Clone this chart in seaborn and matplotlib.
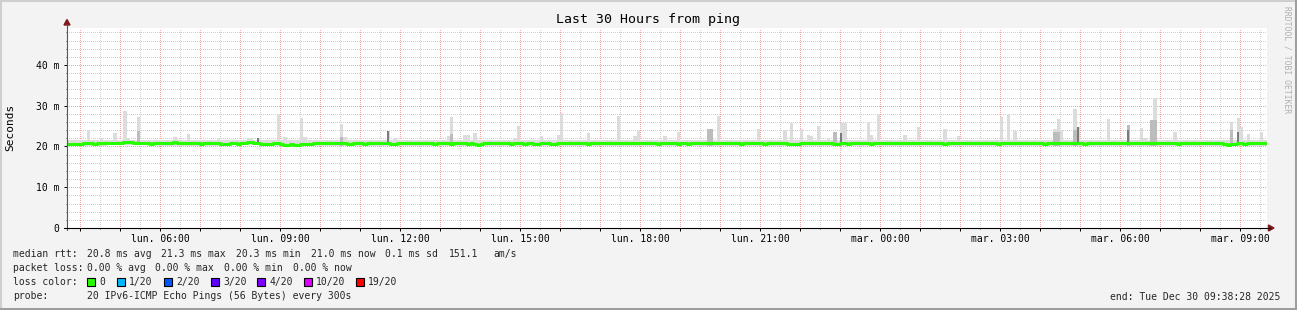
import matplotlib
matplotlib.use("Agg")
import numpy as np
import pandas as pd
import seaborn as sns
import matplotlib.pyplot as plt
from matplotlib.ticker import MultipleLocator, FuncFormatter
from matplotlib.patches import Rectangle, Polygon
from matplotlib.lines import Line2D

# ---------------- data ----------------
# time in hours since Mon 2025-12-29 00:00, 5-minute steps
data_start_h = 3 + 40 / 60
step_h = 5 / 60
view_start_h = 3 + 40.5 / 60
view_span_h = 30

# median rtt (ms), one row per hour (12 x 5 min)
median_ms = [
    20.7, 20.7, 20.6, 20.6, 20.7, 20.8, 20.8, 20.8, 20.7, 20.8, 20.8, 20.8,
    20.8, 20.8, 20.8, 20.9, 20.9, 21.0, 21.0, 21.0, 20.9, 20.9, 20.8, 20.8,
    20.8, 20.7, 20.8, 20.9, 20.9, 20.8, 20.8, 20.9, 21.0, 20.9, 20.8, 20.8,
    20.8, 20.9, 20.8, 20.8, 20.7, 20.8, 20.8, 20.9, 20.8, 20.8, 20.7, 20.7,
    20.7, 20.8, 20.8, 20.7, 20.8, 20.9, 21.0, 21.0, 20.9, 20.8, 20.7, 20.7,
    20.7, 20.7, 20.8, 20.8, 20.6, 20.4, 20.4, 20.5, 20.3, 20.4, 20.5, 20.6,
    20.7, 20.7, 20.8, 20.8, 20.8, 20.9, 20.8, 20.8, 20.8, 20.9, 20.8, 20.8,
    20.7, 20.7, 20.8, 20.8, 20.8, 20.7, 20.8, 20.8, 20.8, 20.9, 20.8, 20.8,
    20.8, 20.6, 20.7, 20.8, 20.8, 20.8, 20.9, 20.8, 20.8, 20.8, 20.8, 20.9,
    20.8, 20.8, 20.7, 20.8, 20.8, 20.9, 20.8, 20.7, 20.8, 20.8, 20.8, 20.9,
    20.7, 20.8, 20.7, 20.3, 20.5, 20.8, 20.8, 20.8, 20.9, 20.8, 20.8, 20.8,
    20.9, 20.7, 20.8, 20.8, 20.8, 20.7, 20.8, 20.8, 20.7, 20.7, 20.8, 20.8,
    20.8, 20.7, 20.7, 20.8, 20.8, 20.8, 20.8, 20.8, 20.9, 20.8, 20.9, 20.9,
    20.7, 20.8, 20.8, 20.8, 20.8, 20.8, 20.8, 20.8, 20.8, 20.8, 20.8, 20.8,
    20.8, 20.8, 20.8, 20.8, 20.8, 20.8, 20.8, 20.8, 20.8, 20.7, 20.8, 20.9,
    20.8, 20.8, 20.8, 20.7, 20.8, 20.8, 20.7, 20.8, 20.9, 20.8, 20.8, 20.8,
    20.8, 20.8, 20.9, 20.9, 20.9, 20.8, 20.8, 20.9, 20.8, 20.8, 20.7, 20.8,
    20.8, 20.8, 20.8, 20.9, 20.8, 20.7, 20.8, 20.8, 20.8, 20.8, 20.8, 20.8,
    20.7, 20.6, 20.5, 20.7, 20.8, 20.8, 20.8, 20.8, 20.8, 20.8, 20.8, 20.8,
    20.8, 20.8, 20.6, 20.7, 20.8, 20.8, 20.7, 20.8, 20.8, 20.8, 20.8, 20.8,
    20.8, 20.7, 20.8, 20.9, 20.9, 20.8, 20.8, 20.8, 20.8, 20.8, 20.8, 20.8,
    20.8, 20.9, 20.9, 20.8, 20.8, 20.8, 20.8, 20.8, 20.8, 20.8, 20.8, 20.7,
    20.8, 20.8, 20.8, 20.8, 20.8, 20.8, 20.8, 20.8, 20.8, 20.8, 20.8, 20.8,
    20.8, 20.8, 20.8, 20.7, 20.8, 20.8, 20.8, 20.8, 20.8, 20.8, 20.8, 20.8,
    20.8, 20.8, 20.8, 20.8, 20.8, 20.7, 20.8, 20.8, 20.8, 20.8, 20.9, 20.8,
    20.8, 20.8, 20.8, 20.8, 20.8, 20.7, 20.8, 20.8, 20.8, 20.8, 20.8, 20.8,
    20.8, 20.8, 20.8, 20.9, 20.8, 20.8, 20.8, 20.9, 20.8, 20.8, 20.8, 20.8,
    20.8, 20.9, 20.8, 20.8, 20.8, 20.8, 20.8, 20.8, 20.8, 20.7, 20.8, 20.8,
    20.8, 20.8, 20.8, 20.8, 20.8, 20.8, 20.8, 20.8, 20.8, 20.8, 20.8, 20.7,
    20.4, 20.5, 20.6, 20.8, 20.8, 20.7, 20.8, 20.8, 20.8, 20.9, 20.8, 20.9,
]

# normal smoke envelope per hour (ms)
smoke_lo_hourly = [20.2, 20.3, 20.2, 20.2, 20.3, 20.0, 20.2, 20.2, 20.2, 20.1,
                   20.1, 20.2, 20.2, 20.2, 20.2, 20.2, 20.2, 20.2, 20.1, 20.1,
                   20.2, 20.2, 20.2, 20.2, 20.2, 20.2, 20.2, 20.2, 20.2, 20.0]
smoke_hi_hourly = [21.5, 21.6, 21.6, 21.5, 21.6, 21.5, 21.5, 21.5, 21.6, 21.6,
                   21.5, 21.6, 21.5, 21.5, 21.5, 21.5, 21.6, 21.5, 21.6, 21.6,
                   21.5, 21.5, 21.5, 21.5, 21.6, 21.6, 21.5, 21.6, 21.5, 21.6]

# smoke spikes: step index -> highest ping (ms)
spike_steps = [6, 10, 14, 17, 18, 21, 32, 36, 45, 54, 55, 57, 63, 65, 70, 71,
               82, 83, 96, 98, 114, 115, 119, 120, 122, 134, 135, 142, 147, 148,
               156, 165, 170, 171, 179, 183, 192, 193, 195, 207, 215, 217, 220,
               222, 223, 225, 228, 230, 232, 233, 240, 241, 243, 251, 255, 263,
               267, 280, 282, 284, 296, 297, 298, 302, 303, 312, 318, 322, 323,
               325, 326, 332, 349, 351, 352, 354, 358]
spike_tops = [24.0, 22.0, 23.4, 28.8, 22.0, 27.3, 22.4, 23.1, 21.8, 22.0, 22.1,
              22.1, 28.0, 22.4, 26.9, 22.4, 25.5, 22.4, 23.9, 22.1, 22.5, 27.3,
              22.8, 22.8, 23.4, 22.2, 25.1, 22.5, 22.8, 28.1, 23.4, 27.6, 22.5,
              23.9, 22.6, 23.6, 24.3, 24.3, 27.6, 24.3, 24.0, 25.8, 24.3, 22.8,
              22.6, 25.0, 22.1, 23.5, 25.8, 25.8, 25.9, 22.8, 28.0, 22.8, 24.9,
              24.3, 22.6, 27.3, 28.0, 23.9, 24.3, 26.7, 24.1, 29.2, 24.7, 26.7,
              25.3, 24.5, 22.0, 26.5, 32.0, 23.6, 25.9, 27.1, 24.7, 23.1, 23.6]

# second smoke layer (several pings high)
mid_steps = [21, 82, 115, 192, 193, 230, 296, 297, 302, 318, 325, 326, 349]
mid_tops = [23.8, 22.4, 23.0, 24.3, 24.3, 23.5, 23.5, 23.5, 24.0, 25.3, 26.5, 26.5, 24.0]
# dense core (most pings high)
dark_steps = [57, 96, 232, 303, 318, 351]
dark_tops = [22.1, 23.9, 23.4, 24.7, 24.0, 23.5]

legend_labels = ["0", "1/20", "2/20", "3/20", "4/20", "10/20", "19/20"]
legend_colors = ["#26ff00", "#00b8ff", "#0059ff", "#5e00ff", "#7e00ff", "#dd00ff", "#ff0000"]

line_rtt = ["median rtt:", "20.8 ms avg", "21.3 ms max", "20.3 ms min",
            "21.0 ms now", "0.1 ms sd", "151.1", "am/s"]
line_loss = ["packet loss:", "0.00 % avg", "0.00 % max", "0.00 % min", "0.00 % now"]
line_probe = ["probe:", "20 IPv6-ICMP Echo Pings (56 Bytes) every 300s"]
end_text = "end: Tue Dec 30 09:38:28 2025"
title_text = "Last 30 Hours from ping"

# ---------------- styling ----------------
BG = "#f3f3f3"
LIGHT = "#dcdcdc"
MID = "#bcbcbc"
DARK = "#7a7a7a"
GREEN = "#26ff00"
ARROW = "#7f1a1a"

sns.set_theme(style="white")
plt.rcParams["font.family"] = ["DejaVu Sans Mono", "DejaVu Sans"]

W, H = 1297, 310
fig = plt.figure(figsize=(W / 100, H / 100), dpi=100, facecolor=BG)


def fx(px):
    return px / W


def fy(py):
    return 1 - py / H


L, R, T, B = 67, 1267, 27.5, 228
ax = fig.add_axes([fx(L), fy(B), (R - L) / W, (B - T) / H])
ax.set_facecolor("white")

n = len(median_ms)
t = data_start_h + np.arange(n) * step_h
med = np.array(median_ms)
lo = np.repeat(smoke_lo_hourly, 12)[:n].astype(float)
hi = np.repeat(smoke_hi_hourly, 12)[:n].astype(float)
for s, v in zip(spike_steps, spike_tops):
    hi[s] = v

ax.bar(t, hi - lo, bottom=lo, width=step_h, align="edge", color=LIGHT,
       linewidth=0, zorder=2, antialiased=False)
ms_ = np.array(mid_steps)
ax.bar(t[ms_], np.array(mid_tops) - lo[ms_], bottom=lo[ms_], width=step_h,
       align="edge", color=MID, linewidth=0, zorder=2.1, antialiased=False)
ds_ = np.array(dark_steps)
ax.bar(t[ds_], np.array(dark_tops) - np.maximum(med[ds_], lo[ds_]),
       bottom=np.maximum(med[ds_], lo[ds_]), width=step_h * 0.6, align="edge",
       color=DARK, linewidth=0, zorder=2.2, antialiased=False)

df = pd.DataFrame({"t": np.append(t, t[-1] + step_h),
                   "ms": np.append(med, med[-1])})
sns.lineplot(data=df, x="t", y="ms", drawstyle="steps-post", color=GREEN,
             linewidth=2.2, ax=ax, zorder=4, legend=False)
ax.set_xlabel("")
ax.set_ylabel("")

ax.set_xlim(view_start_h, view_start_h + view_span_h)
ax.set_ylim(0, 49.2)

ax.xaxis.set_major_locator(MultipleLocator(1))
ax.xaxis.set_minor_locator(MultipleLocator(0.5))
ax.yaxis.set_major_locator(MultipleLocator(10))
ax.yaxis.set_minor_locator(MultipleLocator(2))


def xfmt(v, pos):
    h = int(round(v))
    if h % 3 != 0:
        return ""
    day = "lun." if h < 24 else "mar."
    return f"{day} {h % 24:02d}:00"


def yfmt(v, pos):
    return "0" if abs(v) < 1e-9 else f"{v:.0f} m"


ax.xaxis.set_major_formatter(FuncFormatter(xfmt))
ax.yaxis.set_major_formatter(FuncFormatter(yfmt))

ax.set_axisbelow(True)
ax.grid(which="major", color="#f7a3a3", linestyle=(0, (0.5, 1.5)), linewidth=0.72,
        antialiased=False)
ax.grid(which="minor", color="#d0d0d0", linestyle=(0, (0.5, 1.5)), linewidth=0.72,
        antialiased=False)

ax.tick_params(axis="x", which="major", length=1.8, width=0.72, pad=2.4,
               labelsize=7, colors="#000000", direction="out", bottom=True)
ax.tick_params(axis="x", which="minor", length=1.0, width=0.72, direction="out",
               bottom=True, color="#444444")
ax.tick_params(axis="y", which="major", length=2.2, width=0.72, pad=3.4,
               labelsize=7, colors="#000000", direction="out", left=True)
ax.tick_params(axis="y", which="minor", length=1.0, width=0.72, direction="out",
               left=True, color="#444444")
for sp in ax.spines.values():
    sp.set_visible(False)

# axis lines with arrows
fig.add_artist(Line2D([fx(L), fx(L)], [fy(B + 2), fy(24)], color="#555555",
                      linewidth=0.8, transform=fig.transFigure))
fig.add_artist(Line2D([fx(L - 3), fx(1270)], [fy(B), fy(B)], color="#000000",
                      linewidth=0.8, transform=fig.transFigure))
fig.add_artist(Polygon([[fx(L), fy(19.5)], [fx(L - 3), fy(25)], [fx(L + 3), fy(25)]],
                       closed=True, color=ARROW, transform=fig.transFigure))
fig.add_artist(Polygon([[fx(1274), fy(B)], [fx(1268.5), fy(B - 3)], [fx(1268.5), fy(B + 3)]],
                       closed=True, color=ARROW, transform=fig.transFigure))

# texts
fig.text(fx(648), fy(19), title_text, ha="center", va="center", fontsize=9.5,
         color="#000000")
fig.text(fx(10.5), fy(127), "Seconds", ha="center", va="center", rotation=90,
         fontsize=8, color="#000000")
fig.text(fx(1287.5), fy(60), "RRDTOOL / TOBI OETIKER", ha="center", va="center",
         rotation=270, fontsize=5.8, color="#b0b0b0")

rtt_x = [13.3, 86.7, 161, 235.7, 310.7, 385, 449, 493]
for xx, s in zip(rtt_x, line_rtt):
    fig.text(fx(xx), fy(254.3), s, ha="left", va="center", fontsize=7)
loss_x = [13.3, 86.7, 155, 224, 293]
for xx, s in zip(loss_x, line_loss):
    fig.text(fx(xx), fy(268.3), s, ha="left", va="center", fontsize=7)
fig.text(fx(13.3), fy(282), "loss color:", ha="left", va="center", fontsize=7)
sq_x = [87, 117, 164, 211, 257, 304, 356]
for xx, lab, col in zip(sq_x, legend_labels, legend_colors):
    fig.add_artist(Rectangle((fx(xx), fy(286)), 8 / W, 8 / H, facecolor=col,
                             edgecolor="#000000", linewidth=0.8,
                             transform=fig.transFigure))
    fig.text(fx(xx + 12), fy(282), lab, ha="left", va="center", fontsize=7)
probe_x = [13.3, 86.7]
for xx, s in zip(probe_x, line_probe):
    fig.text(fx(xx), fy(296.3), s, ha="left", va="center", fontsize=7)
fig.text(fx(1280), fy(296.5), end_text, ha="right", va="center", fontsize=7)

# frame
fig.add_artist(Line2D([0, 1], [fy(0.8), fy(0.8)], color="#cfcfcf", linewidth=1.5,
                      transform=fig.transFigure))
fig.add_artist(Line2D([fx(0.8), fx(0.8)], [0, 1], color="#cfcfcf", linewidth=1.5,
                      transform=fig.transFigure))
fig.add_artist(Line2D([0, 1], [fy(H - 1.5), fy(H - 1.5)], color="#9e9e9e",
                      linewidth=2.2, transform=fig.transFigure))
fig.add_artist(Line2D([fx(W - 1.5), fx(W - 1.5)], [0, 1], color="#9e9e9e",
                      linewidth=2.2, transform=fig.transFigure))

fig.savefig("out.png", dpi=100, facecolor=BG)
